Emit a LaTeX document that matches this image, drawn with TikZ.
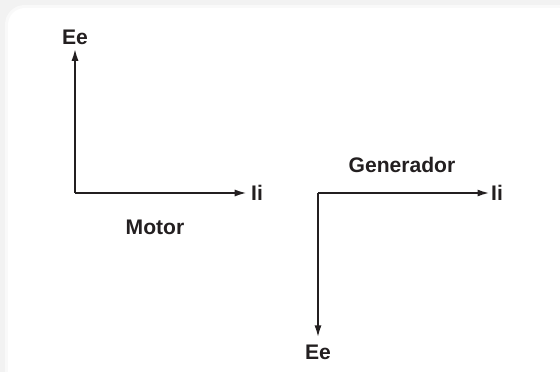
\documentclass[tikz,border=0pt]{standalone}
\usepackage{fontspec}
\setmainfont{Liberation Sans}
\usetikzlibrary{arrows.meta}
\definecolor{inkgray}{HTML}{231F20}
\begin{document}
\begin{tikzpicture}[x=0.025cm,y=-0.025cm]
\tikzstyle{axislabel}=[font=\bfseries\fontsize{15}{17}\selectfont,text=inkgray,inner sep=3pt]
\tikzstyle{axis}=[-{Latex[length=8.5pt,width=5pt]},line width=1.3pt,draw=inkgray]
\useasboundingbox (0,0) rectangle (560,372);
\clip (0,0) rectangle (560,372);
% card with soft edge
\fill[gray!10] (0,0) rectangle (560,372);
\fill[gray!5,rounded corners=14] (5,5) rectangle (580,390);
\fill[white,rounded corners=12] (8,8) rectangle (580,390);
% motor
\coordinate (mo) at (75,193);
\node[axislabel] (mEe) at (75,37) {Ee};
\node[axislabel] (mIi) at (257,193) {Ii};
\node[axislabel] (motor) at (155,227) {Motor};
\draw[axis] (mo) -- (mEe.south);
\draw[axis] (mo) -- (mIi.west);
% generador
\coordinate (go) at (318,193);
\node[axislabel,inner xsep=1pt] (gIi) at (497,193) {Ii};
\node[axislabel,inner ysep=5pt] (gEe) at (318,352) {Ee};
\node[axislabel] (generador) at (402,165) {Generador};
\draw[axis] (go) -- (gIi.west);
\draw[axis] (go) -- (gEe.north);
\end{tikzpicture}
\end{document}
